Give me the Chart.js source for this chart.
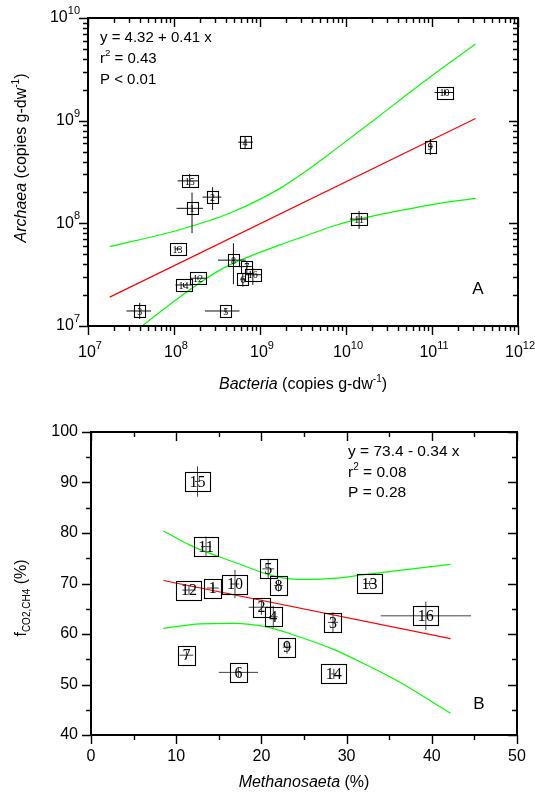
<!DOCTYPE html>
<html>
<head>
<meta charset="utf-8">
<script src="https://cdn.jsdelivr.net/npm/chart.js@4.4.1/dist/chart.umd.min.js"></script>
<style>
  body { margin: 0; background: #fff; }
  canvas { position: absolute; left: 0; }
  #chartA { top: 0; }
  #chartB { top: 400px; }
</style>
</head>
<body>
<canvas id="chartA" width="535" height="400"></canvas>
<canvas id="chartB" width="535" height="397"></canvas>
<script>
// ---- panel A : Archaea vs Bacteria (copies g-dw-1), log-log ----
var sampleLabels = ['1','2','3','4','5','6','7','8','9','10','11','12','13','14','15','16'];

var aBacteria = [1.62e8, 2.81e8, 3.99e7, 6.71e8, 4.01e8, 6.31e8, 7.03e8, 4.91e8, 9.57e10, 1.40e11, 1.42e10, 1.90e8, 1.10e8, 1.29e8, 1.52e8, 8.25e8];
var aArchaea  = [1.40e8, 1.80e8, 1.40e7, 6.17e8, 1.40e7, 2.86e7, 3.79e7, 4.38e7, 5.58e8, 1.88e9, 1.10e8, 2.92e7, 5.63e7, 2.51e7, 2.59e8, 3.16e7];
var aBactLow  = [1.07e8, 2.15e8, 2.80e7, 5.57e8, 2.29e8, 5.90e8, 5.61e8, 3.24e8, 9.00e10, 1.07e11, 1.11e10, 1.55e8, 1.02e8, 1.04e8, 1.10e8, 6.71e8];
var aBactHigh = [2.17e8, 3.54e8, 5.41e7, 8.26e8, 5.77e8, 6.80e8, 8.04e8, 6.84e8, 1.02e11, 1.80e11, 1.75e10, 2.41e8, 1.19e8, 1.62e8, 1.93e8, 1.05e9];
var aArchLow  = [8.02e7, 1.35e8, 1.17e7, 5.40e8, 1.33e7, 2.42e7, 3.27e7, 2.55e7, 4.63e8, 1.76e9, 8.83e7, 2.80e7, 5.40e7, 2.40e7, 2.21e8, 2.51e7];
var aArchHigh = [1.99e8, 2.25e8, 1.68e7, 7.05e8, 1.47e7, 3.27e7, 4.24e7, 6.40e7, 6.64e8, 2.01e9, 1.32e8, 3.05e7, 5.90e7, 2.62e7, 3.03e8, 3.66e7];

var aFitX   = [1.79e7, 3.21e11];
var aFitY   = [1.91e7, 1.05e9];
var aUpperX = [1.79e7, 1.18e8, 4.50e8, 1.71e9, 3.18e9, 7.78e9, 1.89e10, 4.61e10, 1.12e11, 3.21e11];
var aUpperY = [5.93e7, 8.71e7, 1.26e8, 2.19e8, 3.09e8, 5.37e8, 9.44e8, 1.68e9, 2.95e9, 5.58e9];
var aLowerX = [4.26e7, 1.18e8, 3.44e8, 5.87e8, 1.71e9, 3.18e9, 7.78e9, 1.42e10, 4.61e10, 1.12e11, 3.21e11];
var aLowerY = [1.00e7, 1.93e7, 3.52e7, 4.36e7, 6.17e7, 7.41e7, 9.64e7, 1.10e8, 1.35e8, 1.55e8, 1.75e8];

var aXPowers = [7, 8, 9, 10, 11, 12];
var aYPowers = [7, 8, 9, 10];
var aStats = ['y = 4.32 + 0.41 x', 'r|2| = 0.43', 'P < 0.01'];

// ---- panel B : fCO2,CH4 vs Methanosaeta (%) ----
var bSaeta = [14.3, 20.0, 28.4, 21.4, 20.8, 17.3, 11.2, 22.0, 23.0, 16.9, 13.5, 11.5, 32.7, 28.5, 12.5, 39.3];
var bFco2  = [69.1, 65.3, 62.3, 63.4, 72.9, 52.4, 55.8, 69.6, 57.4, 69.9, 77.3, 68.7, 70.0, 52.1, 90.2, 63.6];
var bSaetaErr = [0.7, 1.5, 0.6, 0.5, 0.7, 2.3, 0.8, 0.5, 0.5, 0.5, 0.6, 0.8, 0.7, 0.3, 0.3, 5.3];
var bFco2Err  = [0.8, 1.5, 2.0, 2.2, 2.0, 1.0, 0.8, 1.2, 1.3, 2.8, 2.0, 1.0, 0.5, 1.0, 3.0, 2.8];

var bFitX   = [8.5, 42.2];
var bFitY   = [70.6, 59.1];
var bUpperX = [8.5, 11.6, 14.7, 17.5, 20.6, 23.3, 26.0, 28.4, 32.3, 36.2, 42.2];
var bUpperY = [80.4, 77.6, 75.5, 73.8, 71.9, 70.9, 70.8, 71.0, 71.8, 72.6, 73.8];
var bLowerX = [8.5, 12.8, 16.7, 20.6, 24.5, 28.4, 32.3, 36.2, 42.2];
var bLowerY = [61.1, 62.0, 62.1, 61.4, 59.4, 57.0, 53.9, 50.5, 44.3];

var bXTicks = [0, 10, 20, 30, 40, 50];
var bYTicks = [40, 50, 60, 70, 80, 90, 100];
var bStats = ['y = 73.4 - 0.34 x', 'r|2| = 0.08', 'P = 0.28'];

var SANS = '"Liberation Sans", Arial, sans-serif';
var SERIF = '"Liberation Serif", "Times New Roman", serif';

function pts(xs, ys) {
    return xs.map(function(x, i) { return {x: x, y: ys[i]}; });
}

// parts: [text, font, dy]
function rich(ctx, parts, x, y, align) {
    var w = 0;
    parts.forEach(function(p) { ctx.font = p[1]; w += ctx.measureText(p[0]).width; });
    var cx = align === 'center' ? x - w / 2 : (align === 'right' ? x - w : x);
    parts.forEach(function(p) {
        ctx.font = p[1];
        ctx.fillText(p[0], cx, y + (p[2] || 0));
        cx += ctx.measureText(p[0]).width;
    });
}

// "r|2| = 0.43" -> superscript between bars
function statParts(s, size) {
    var bits = s.split('|');
    var out = [];
    bits.forEach(function(b, i) {
        if (!b) return;
        if (i % 2 === 1) out.push([b, (size * 0.65) + 'px ' + SANS, -size * 0.35]);
        else out.push([b, size + 'px ' + SANS, 0]);
    });
    return out;
}

function tickLines(ctx, scale, values, len, area, isX) {
    values.forEach(function(v) {
        var p = Math.round(scale.getPixelForValue(v)) + 0.5;
        ctx.beginPath();
        if (isX) {
            ctx.moveTo(p, area.bottom); ctx.lineTo(p, area.bottom + len);
            ctx.moveTo(p, area.top); ctx.lineTo(p, area.top + len);
        } else {
            ctx.moveTo(area.left - len, p); ctx.lineTo(area.left, p);
            ctx.moveTo(area.right - len, p); ctx.lineTo(area.right, p);
        }
        ctx.stroke();
    });
}

function drawMarkers(chart, cfg) {
    var ctx = chart.ctx;
    var xs = chart.scales.x, ys = chart.scales.y;
    var meta = chart.getDatasetMeta(0);
    ctx.save();
    ctx.lineWidth = 1;
    ctx.strokeStyle = cfg.barColor;
    meta.data.forEach(function(el, i) {
        var x0 = xs.getPixelForValue(cfg.xLow[i]), x1 = xs.getPixelForValue(cfg.xHigh[i]);
        var y0 = ys.getPixelForValue(cfg.yLow[i]), y1 = ys.getPixelForValue(cfg.yHigh[i]);
        ctx.beginPath();
        ctx.moveTo(x0, el.y); ctx.lineTo(x1, el.y);
        ctx.moveTo(el.x, y0); ctx.lineTo(el.x, y1);
        ctx.stroke();
    });
    ctx.font = cfg.labelSize + 'px ' + SERIF;
    ctx.textAlign = 'center';
    ctx.textBaseline = 'middle';
    ctx.strokeStyle = '#000';
    ctx.lineWidth = 1.1;
    meta.data.forEach(function(el, i) {
        var t = sampleLabels[i];
        var w = Math.round(ctx.measureText(t).width + cfg.pad);
        var h = cfg.boxH;
        ctx.strokeRect(Math.round(el.x - w / 2) + 0.5, Math.round(el.y - h / 2) + 0.5, w, h);
        ctx.fillStyle = '#000';
        ctx.fillText(t, el.x, el.y + 1);
    });
    ctx.restore();
}

function frame(ctx, area) {
    ctx.lineWidth = 2;
    ctx.strokeStyle = '#000';
    ctx.strokeRect(area.left, area.top, area.right - area.left, area.bottom - area.top);
}

var panelA = {
    id: 'panelA',
    afterDatasetsDraw: function(chart) {
        drawMarkers(chart, {xLow: aBactLow, xHigh: aBactHigh, yLow: aArchLow, yHigh: aArchHigh,
            barColor: '#111', labelSize: 10, pad: 6, boxH: 12});
        var ctx = chart.ctx, a = chart.chartArea;
        var xs = chart.scales.x, ys = chart.scales.y;
        ctx.save();
        frame(ctx, a);
        ctx.lineWidth = 1.4;
        var minorX = [], minorY = [];
        aXPowers.slice(0, -1).forEach(function(p) { for (var m = 2; m < 10; m++) minorX.push(m * Math.pow(10, p)); });
        aYPowers.slice(0, -1).forEach(function(p) { for (var m = 2; m < 10; m++) minorY.push(m * Math.pow(10, p)); });
        tickLines(ctx, xs, aXPowers.map(function(p) { return Math.pow(10, p); }), 9, a, true);
        tickLines(ctx, ys, aYPowers.map(function(p) { return Math.pow(10, p); }), 9, a, false);
        tickLines(ctx, xs, minorX, 5, a, true);
        tickLines(ctx, ys, minorY, 5, a, false);

        ctx.fillStyle = '#000';
        ctx.textBaseline = 'middle';
        aXPowers.forEach(function(p) {
            rich(ctx, [['10', '16px ' + SANS, 0], [String(p), '11px ' + SANS, -7]],
                xs.getPixelForValue(Math.pow(10, p)) + 2, a.bottom + 27, 'center');
        });
        aYPowers.forEach(function(p) {
            rich(ctx, [['10', '16px ' + SANS, 0], [String(p), '11px ' + SANS, -7]],
                a.left - 8, ys.getPixelForValue(Math.pow(10, p)), 'right');
        });
        aStats.forEach(function(s, i) {
            rich(ctx, statParts(s, 15), 100, 38 + i * 21, 'left');
        });
        rich(ctx, [['A', '17px ' + SANS, 0]], 478, 289, 'center');

        rich(ctx, [['Bacteria', 'italic 16px ' + SANS, 0], [' (copies g-dw', '16px ' + SANS, 0],
            ['-1', '10px ' + SANS, -6], [')', '16px ' + SANS, 0]], (a.left + a.right) / 2, 385, 'center');
        ctx.translate(22, 158);
        ctx.rotate(-Math.PI / 2);
        rich(ctx, [['Archaea', 'italic 16px ' + SANS, 0], [' (copies g-dw', '16px ' + SANS, 0],
            ['-1', '10px ' + SANS, -6], [')', '16px ' + SANS, 0]], 0, 0, 'center');
        ctx.restore();
    }
};

var panelB = {
    id: 'panelB',
    afterDatasetsDraw: function(chart) {
        drawMarkers(chart, {
            xLow: bSaeta.map(function(v, i) { return v - bSaetaErr[i]; }),
            xHigh: bSaeta.map(function(v, i) { return v + bSaetaErr[i]; }),
            yLow: bFco2.map(function(v, i) { return v - bFco2Err[i]; }),
            yHigh: bFco2.map(function(v, i) { return v + bFco2Err[i]; }),
            barColor: '#444', labelSize: 16, pad: 9, boxH: 19});
        var ctx = chart.ctx, a = chart.chartArea;
        var xs = chart.scales.x, ys = chart.scales.y;
        ctx.save();
        frame(ctx, a);
        ctx.lineWidth = 1.4;
        tickLines(ctx, xs, bXTicks, 9, a, true);
        tickLines(ctx, ys, bYTicks, 9, a, false);
        tickLines(ctx, xs, bXTicks.slice(0, -1).map(function(v) { return v + 5; }), 5, a, true);
        tickLines(ctx, ys, bYTicks.slice(0, -1).map(function(v) { return v + 5; }), 5, a, false);

        ctx.fillStyle = '#000';
        ctx.textBaseline = 'middle';
        bXTicks.forEach(function(v) {
            rich(ctx, [[String(v), '16px ' + SANS, 0]], xs.getPixelForValue(v), a.bottom + 22, 'center');
        });
        bYTicks.forEach(function(v) {
            rich(ctx, [[String(v), '16px ' + SANS, 0]], a.left - 13, ys.getPixelForValue(v), 'right');
        });
        bStats.forEach(function(s, i) {
            rich(ctx, statParts(s, 15.5), 348, 52 + i * 20.5, 'left');
        });
        rich(ctx, [['B', '17px ' + SANS, 0]], 479, 304, 'center');

        rich(ctx, [['Methanosaeta', 'italic 16px ' + SANS, 0], [' (%)', '16px ' + SANS, 0]],
            (a.left + a.right) / 2, 383, 'center');
        ctx.translate(22, 198);
        ctx.rotate(-Math.PI / 2);
        rich(ctx, [['f', '16px ' + SANS, 0], ['CO2,CH4', '10px ' + SANS, 5], [' (%)', '16px ' + SANS, 0]], 0, 0, 'center');
        ctx.restore();
    }
};

function lineSet(data, color, smooth) {
    return {data: data, showLine: true, borderColor: color, borderWidth: 1.2, pointRadius: 0,
        cubicInterpolationMode: smooth ? 'monotone' : 'default'};
}

function baseOptions(padding, xScale, yScale) {
    return {
        responsive: false,
        animation: false,
        events: [],
        layout: {padding: padding},
        plugins: {legend: {display: false}, tooltip: {enabled: false}},
        scales: {x: xScale, y: yScale}
    };
}

new Chart(document.getElementById('chartA'), {
    type: 'scatter',
    data: {
        datasets: [
            {data: pts(aBacteria, aArchaea), pointRadius: 0},
            lineSet(pts(aFitX, aFitY), '#ff0000', false),
            lineSet(pts(aUpperX, aUpperY), '#00ff00', true),
            lineSet(pts(aLowerX, aLowerY), '#00ff00', true)
        ]
    },
    options: baseOptions({left: 88, right: 17, top: 18, bottom: 74},
        {type: 'logarithmic', display: false, min: 1e7, max: 1e12},
        {type: 'logarithmic', display: false, min: 1e7, max: 1e10}),
    plugins: [panelA]
});

new Chart(document.getElementById('chartB'), {
    type: 'scatter',
    data: {
        datasets: [
            {data: pts(bSaeta, bFco2), pointRadius: 0},
            lineSet(pts(bFitX, bFitY), '#ff0000', false),
            lineSet(pts(bUpperX, bUpperY), '#00ff00', true),
            lineSet(pts(bLowerX, bLowerY), '#00ff00', true)
        ]
    },
    options: baseOptions({left: 91, right: 18, top: 32, bottom: 62},
        {type: 'linear', display: false, min: 0, max: 50},
        {type: 'linear', display: false, min: 40, max: 100}),
    plugins: [panelB]
});
</script>
</body>
</html>
